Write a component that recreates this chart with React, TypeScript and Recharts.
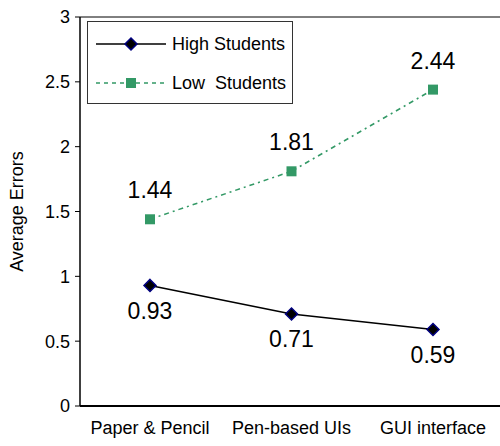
import { LineChart, Line, XAxis, YAxis, Legend, LabelList, ReferenceLine } from "recharts";

const categories = ["Paper & Pencil", "Pen-based UIs", "GUI interface"];
const highStudents = [0.93, 0.71, 0.59];
const lowStudents = [1.44, 1.81, 2.44];
const yTicks = [0, 0.5, 1, 1.5, 2, 2.5, 3];

const data = categories.map((name, i) => ({
  name,
  high: highStudents[i],
  low: lowStudents[i],
}));

const FONT = "'Liberation Sans', Arial, sans-serif";

function Diamond({ cx, cy }: any) {
  if (cx == null || cy == null) return null;
  const r = 6;
  return (
    <polygon
      points={`${cx},${cy - r} ${cx + r},${cy} ${cx},${cy + r} ${cx - r},${cy}`}
      fill="#000"
      stroke="#000080"
      strokeWidth={1.5}
    />
  );
}

function Square({ cx, cy }: any) {
  if (cx == null || cy == null) return null;
  const s = 10;
  return <rect x={cx - s / 2} y={cy - s / 2} width={s} height={s} fill="#339966" />;
}

function LegendBox() {
  return (
    <div
      style={{
        border: "1px solid #333",
        width: 206,
        height: 83,
        background: "#fff",
        fontFamily: FONT,
        fontSize: 18,
        color: "#000",
        boxSizing: "border-box",
      }}
    >
      <div style={{ display: "flex", alignItems: "center", height: 40, paddingTop: 2 }}>
        <svg width={76} height={20} style={{ marginLeft: 8, flexShrink: 0 }}>
          <line x1={0} y1={10} x2={70} y2={10} stroke="#000" strokeWidth={1.5} />
          <Diamond cx={35} cy={10} />
        </svg>
        <span>High Students</span>
      </div>
      <div style={{ display: "flex", alignItems: "center", height: 38 }}>
        <svg width={76} height={20} style={{ marginLeft: 8, flexShrink: 0 }}>
          <line x1={0} y1={10} x2={70} y2={10} stroke="#339966" strokeWidth={1.5} strokeDasharray="4 4" />
          <Square cx={35} cy={10} />
        </svg>
        <span>Low&nbsp; Students</span>
      </div>
    </div>
  );
}

export default function App() {
  return (
    <div style={{ position: "absolute", left: 0, top: 0, width: 500, height: 446, overflow: "hidden", background: "#fff" }}>
      <LineChart width={504} height={446} data={data} margin={{ top: 17, right: 0, bottom: 0, left: 0 }}>
        <XAxis
          dataKey="name"
          height={40}
          padding={{ left: 70, right: 71 }}
          tickLine={false}
          axisLine={{ stroke: "#000", strokeWidth: 2 }}
          tick={{ fill: "#000", fontSize: 18, fontFamily: FONT }}
          tickMargin={9}
          interval={0}
        />
        <YAxis
          width={80}
          domain={[0, 3]}
          ticks={yTicks}
          tickSize={5}
          tickMargin={5}
          tickLine={{ stroke: "#000" }}
          axisLine={{ stroke: "#000", strokeWidth: 1.5 }}
          tick={{ fill: "#000", fontSize: 18, fontFamily: FONT }}
          label={{
            value: "Average Errors",
            angle: -90,
            position: "insideLeft",
            offset: 17,
            style: { textAnchor: "middle", fill: "#000", fontSize: 18, fontFamily: FONT },
          }}
        />
        <ReferenceLine y={3} stroke="#000" strokeWidth={1} />
        <Legend
          layout="vertical"
          align="center"
          verticalAlign="middle"
          content={() => <LegendBox />}
          wrapperStyle={{ left: 87, top: 21, width: 206 }}
        />
        <Line
          dataKey="high"
          name="High Students"
          stroke="#000"
          strokeWidth={1.5}
          dot={<Diamond />}
          activeDot={false}
          isAnimationActive={false}
        >
          <LabelList dataKey="high" position="bottom" offset={17} style={{ fill: "#000", fontSize: 23, fontFamily: FONT }} />
        </Line>
        <Line
          dataKey="low"
          name="Low Students"
          stroke="#339966"
          strokeWidth={1.5}
          strokeDasharray="5 4 2 4"
          dot={<Square />}
          activeDot={false}
          isAnimationActive={false}
        >
          <LabelList dataKey="low" position="top" offset={21} style={{ fill: "#000", fontSize: 23, fontFamily: FONT }} />
        </Line>
      </LineChart>
    </div>
  );
}
